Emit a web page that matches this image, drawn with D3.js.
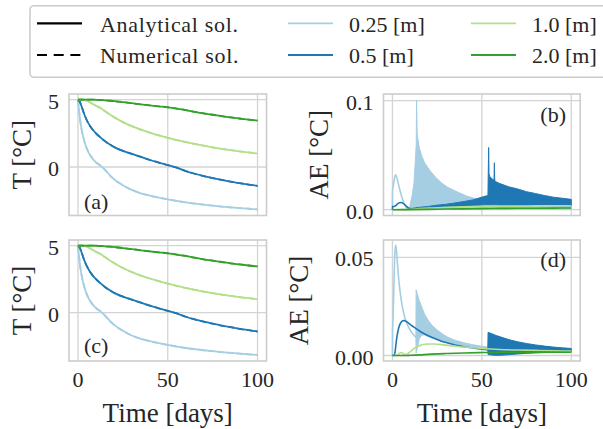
<!DOCTYPE html>
<html><head><meta charset="utf-8">
<script src="https://cdn.jsdelivr.net/npm/d3@7"></script>
<style>
body{margin:0;background:#fff}
svg{display:block}
text{font-family:"Liberation Serif","Times New Roman",serif;fill:#262626}
</style>
</head><body>
<svg id="chart" width="603" height="429"></svg>
<script>
// ---------------- data ----------------
const depthLabels = ["0.25 [m]", "0.5 [m]", "1.0 [m]", "2.0 [m]"];
const solLabels = ["Analytical sol.", "Numerical sol."];
const xTicks = [0, 50, 100];
const tTicks = [0, 5];
const aeTicksB = [0.0, 0.1];
const aeTicksD = [0.00, 0.05];
const xLabel = "Time [days]";
const yLabelT = "T [°C]";
const yLabelAE = "AE [°C]";

// temperature (panels a and c)
const timeT = [0,1,2,3,4,5,6,8,10,12.5,15,18,21,25,30,35,40,45,50,55,60,65,70,75,80,85,90,95,100];
const tempD025 = [5,3.7,2.8,2.2,1.7,1.35,1.05,0.65,0.35,0.1,-0.2,-0.65,-1.0,-1.35,-1.7,-1.95,-2.12,-2.27,-2.4,-2.52,-2.63,-2.72,-2.8,-2.87,-2.94,-3.0,-3.05,-3.1,-3.15];
const tempD05  = [5,4.85,4.5,4.1,3.75,3.45,3.2,2.8,2.5,2.2,1.92,1.65,1.42,1.2,0.97,0.75,0.52,0.33,0.14,-0.05,-0.3,-0.5,-0.67,-0.82,-0.96,-1.08,-1.2,-1.3,-1.4];
const tempD10  = [5,5,5,4.98,4.95,4.9,4.85,4.7,4.55,4.38,4.15,3.88,3.63,3.33,3.03,2.77,2.55,2.35,2.17,2.0,1.85,1.71,1.58,1.46,1.35,1.25,1.16,1.08,1.0];
const tempD20  = [5,5,5,5,5,5,5,5,4.99,4.97,4.95,4.92,4.88,4.82,4.74,4.65,4.57,4.5,4.43,4.33,4.23,4.1,3.98,3.88,3.78,3.68,3.6,3.52,3.45];

// absolute error, panel (b)
const aeB_D025_t  = [0,0.05,0.5,1,1.8,2.5,3,4,5,6,7,8,9,9.5];
const aeB_D025_v  = [0,0.017,0.022,0.028,0.032,0.029,0.026,0.019,0.013,0.008,0.004,0.0015,0.0005,0.0004];
const aeB_D025_bt = [9.5,10,11,12,12.8,13.3,13.5,13.8,14.3,15,16.3,18,21,24,27.5,31,37,42,48,52,55,60,70,80,90,100];
const aeB_D025_hi = [0.0005,0.006,0.013,0.024,0.045,0.06,0.1005,0.07,0.064,0.057,0.0495,0.043,0.0358,0.030,0.0245,0.0204,0.0158,0.0122,0.0095,0.008,0.0072,0.0065,0.0055,0.0048,0.0043,0.004];
const aeB_D025_lo = [0.0004,0.0004,0.0004,0.0004,0.0004,0.0004,0.0004,0.0004,0.0004,0.0004,0.0004,0.0004,0.0004,0.0004,0.0004,0.0004,0.0004,0.0004,0.0004,0.0004,0.0004,0.0004,0.0004,0.0004,0.0004,0.0004];
const aeB_D05_t   = [0,0.05,1,2,3,4,5,6,7,8,9,10,11];
const aeB_D05_v   = [0,0.003,0.003,0.004,0.0055,0.0063,0.0066,0.0058,0.0045,0.0028,0.0016,0.001,0.0009];
const aeB_D05_bt  = [11,15,20,25,30,35,40,45,48,51,53.4,53.6,53.8,54.0,54.5,56.0,56.8,57.0,57.2,58,60,65,70,75,80,85,90,95,100];
const aeB_D05_hi  = [0.0012,0.0022,0.003,0.0042,0.005,0.0062,0.0075,0.009,0.0105,0.012,0.013,0.035,0.057,0.033,0.03,0.028,0.027,0.043,0.027,0.0255,0.024,0.021,0.019,0.0165,0.0148,0.013,0.0115,0.0105,0.0095];
const aeB_D05_lo  = [0.0008,0.0012,0.0016,0.002,0.0025,0.003,0.0035,0.004,0.0042,0.0045,0.0046,0.0045,0.0045,0.0045,0.0045,0.0045,0.0045,0.0045,0.0045,0.0045,0.0044,0.0043,0.0042,0.0041,0.004,0.0039,0.0038,0.0037,0.0036];
const aeB_D10_t   = [0,5,8,10,15,20,30,40,50,60,70,80,90,100];
const aeB_D10_v   = [0,0,0.0001,0.0003,0.001,0.0016,0.0022,0.0026,0.0029,0.0031,0.0033,0.0035,0.0036,0.0037];
const aeB_D20_t   = [0,10,20,30,40,50,60,70,80,90,100];
const aeB_D20_v   = [0,0.0001,0.0003,0.0006,0.0008,0.001,0.0012,0.0013,0.0014,0.0015,0.0016];

// absolute error, panel (d)
const aeD_D025_t  = [0,0.05,0.3,0.8,1.3,1.8,2.2,2.8,3.5,4.5,5.5,7,9,11,12.5,13.1];
const aeD_D025_v  = [0,0.012,0.018,0.035,0.051,0.0563,0.054,0.047,0.039,0.031,0.025,0.019,0.0145,0.0115,0.0098,0.0092];
const aeD_D025_bt = [13.1,13.25,13.4,14,15,16.5,18,20,22,25,28,31,35,40,45,50,55,60,70,80,90,100];
const aeD_D025_hi = [0.0092,0.0335,0.033,0.031,0.028,0.0245,0.021,0.018,0.0155,0.013,0.011,0.0093,0.0078,0.0065,0.0055,0.0047,0.0041,0.0037,0.0032,0.0028,0.0025,0.0023];
const aeD_D025_lo = [0.0092,0.0012,0.002,0.004,0.0085,0.0105,0.0105,0.0097,0.009,0.008,0.0072,0.0065,0.0057,0.005,0.0043,0.0038,0.0034,0.003,0.0025,0.0022,0.002,0.0018];
const aeD_D05_t   = [0,1,1.5,2,2.5,3,3.5,4,5,6,7,8,9,10,12,14,16,18,20,23,26,30,35,40,45,50,53.3];
const aeD_D05_v   = [0,0.0003,0.002,0.006,0.0095,0.012,0.014,0.0155,0.0171,0.0178,0.0177,0.0172,0.0165,0.0158,0.0145,0.0132,0.012,0.011,0.0101,0.0089,0.0078,0.0066,0.0054,0.0045,0.0038,0.0032,0.0029];
const aeD_D05_bt  = [53.3,53.5,55,58,62,66,70,75,80,85,90,95,100];
const aeD_D05_hi  = [0.0029,0.0118,0.0113,0.0102,0.009,0.0079,0.007,0.0061,0.0054,0.0048,0.0043,0.0039,0.0036];
const aeD_D05_lo  = [0.0029,0.0005,0.0003,0.0001,0.0002,0.0005,0.0008,0.0011,0.0013,0.0015,0.0016,0.0018,0.0019];
const aeD_D10_t   = [0,3,4,5,6,7,8,9,10,12,14,16,18,20,23,26,30,35,40,50,60,70,80,90,100];
const aeD_D10_v   = [0,0.0001,0.0012,0.0015,0.001,0.0004,0.0006,0.0012,0.002,0.0035,0.0046,0.0053,0.0057,0.0059,0.0059,0.0057,0.0053,0.0048,0.0043,0.0036,0.0031,0.0028,0.0026,0.0024,0.0023];
const aeD_D20_t   = [0,8,10,15,20,30,40,50,60,80,100];
const aeD_D20_v   = [0,0,0.0001,0.0003,0.0006,0.001,0.0013,0.0015,0.0016,0.0017,0.0017];

// ---------------- drawing ----------------
const colors = ["#a6cee3", "#1f78b4", "#b2df8a", "#33a02c"];
const svg = d3.select("#chart");
const zip2 = (t, v) => t.map((x, i) => ({t: x, v: v[i]}));
const zip3 = (t, lo, hi) => t.map((x, i) => ({t: x, lo: lo[i], hi: hi[i]}));

let clipId = 0;
function makeAxes(box, yDomain, yTicks, yFmt, showX) {
  const x = d3.scaleLinear().domain([-5, 105]).range([box.x0, box.x1]);
  const y = d3.scaleLinear().domain(yDomain).range([box.y1, box.y0]);
  const g = svg.append("g");
  // grid
  g.selectAll(".gx").data(xTicks).enter().append("line")
    .attr("x1", d => x(d)).attr("x2", d => x(d)).attr("y1", box.y0).attr("y2", box.y1)
    .attr("stroke", "#d4d4d4").attr("stroke-width", 1.3);
  g.selectAll(".gy").data(yTicks).enter().append("line")
    .attr("y1", d => y(d)).attr("y2", d => y(d)).attr("x1", box.x0).attr("x2", box.x1)
    .attr("stroke", "#d4d4d4").attr("stroke-width", 1.3);
  // tick labels
  g.selectAll(".ty").data(yTicks).enter().append("text")
    .attr("x", box.x0 - 10).attr("y", d => y(d) + 9)
    .attr("text-anchor", "end").attr("font-size", 22).text(d => yFmt(d));
  if (showX) {
    g.selectAll(".tx").data(xTicks).enter().append("text")
      .attr("x", d => x(d)).attr("y", box.y1 + 25.7)
      .attr("text-anchor", "middle").attr("font-size", 22).text(d => d);
    g.append("text").attr("x", (box.x0 + box.x1) / 2).attr("y", 421.5)
      .attr("text-anchor", "middle").attr("font-size", 27).text(xLabel);
  }
  const id = "clip" + (clipId++);
  svg.append("clipPath").attr("id", id).append("rect")
    .attr("x", box.x0).attr("y", box.y0).attr("width", box.x1 - box.x0).attr("height", box.y1 - box.y0);
  const plot = svg.append("g").attr("clip-path", `url(#${id})`);
  return {x, y, g, plot, box};
}
function frame(ax) {
  const b = ax.box;
  svg.append("rect").attr("x", b.x0).attr("y", b.y0).attr("width", b.x1 - b.x0).attr("height", b.y1 - b.y0)
    .attr("fill", "none").attr("stroke", "#cccccc").attr("stroke-width", 1.6);
}
function yLabel(ax, text, bx) {
  const cy = (ax.box.y0 + ax.box.y1) / 2;
  svg.append("text").attr("transform", `translate(${bx},${cy}) rotate(-90)`)
    .attr("text-anchor", "middle").attr("font-size", 27).text(text);
}
function tag(ax, text, px, py, anchor) {
  svg.append("text").attr("x", px).attr("y", py).attr("text-anchor", anchor)
    .attr("font-size", 22).text(text);
}

function tempPanel(box, showX) {
  const ax = makeAxes(box, [-3.6, 5.42], tTicks, d3.format("d"), showX);
  const series = [tempD025, tempD05, tempD10, tempD20];
  const line = d3.line().x(d => ax.x(d.t)).y(d => ax.y(d.v)).curve(d3.curveMonotoneX);
  series.forEach((s, i) => {
    const data = zip2(timeT, s);
    ax.plot.append("path").attr("d", line(data)).attr("fill", "none")
      .attr("stroke", colors[i]).attr("stroke-width", 1.8);
    ax.plot.append("path").attr("d", line(data)).attr("fill", "none")
      .attr("stroke", colors[i]).attr("stroke-width", 1.8).attr("stroke-dasharray", "6,3.5");
  });
  frame(ax);
  return ax;
}

function aePanel(box, yDomain, yTicks, fmt, showX, parts) {
  const ax = makeAxes(box, yDomain, yTicks, d3.format(fmt), showX);
  const line = d3.line().x(d => ax.x(d.t)).y(d => ax.y(d.v)).curve(d3.curveMonotoneX);
  const area = d3.area().x(d => ax.x(d.t)).y0(d => ax.y(d.lo)).y1(d => ax.y(d.hi));
  parts.forEach(p => {
    if (p.band) {
      ax.plot.append("path").attr("d", area(p.band)).attr("fill", colors[p.c])
        .attr("stroke", colors[p.c]).attr("stroke-width", 1).attr("stroke-linejoin", "round");
    }
    ax.plot.append("path").attr("d", line(p.line)).attr("fill", "none")
      .attr("stroke", colors[p.c]).attr("stroke-width", 1.6);
  });
  frame(ax);
  return ax;
}

const boxA = {x0: 69, x1: 266.5, y0: 94, y1: 215.5};
const boxB = {x0: 383.5, x1: 580.2, y0: 94, y1: 215.5};
const boxC = {x0: 69, x1: 266.5, y0: 240, y1: 361};
const boxD = {x0: 383.5, x1: 580.2, y0: 240, y1: 361};

const axA = tempPanel(boxA, false);
const axC = tempPanel(boxC, true);
const axB = aePanel(boxB, [-0.0053, 0.106], aeTicksB, ".1f", false, [
  {c: 0, line: zip2(aeB_D025_t, aeB_D025_v), band: zip3(aeB_D025_bt, aeB_D025_lo, aeB_D025_hi)},
  {c: 1, line: zip2(aeB_D05_t, aeB_D05_v), band: zip3(aeB_D05_bt, aeB_D05_lo, aeB_D05_hi)},
  {c: 2, line: zip2(aeB_D10_t, aeB_D10_v)},
  {c: 3, line: zip2(aeB_D20_t, aeB_D20_v)}
]);
const axD = aePanel(boxD, [-0.0028, 0.0589], aeTicksD, ".2f", true, [
  {c: 0, line: zip2(aeD_D025_t, aeD_D025_v), band: zip3(aeD_D025_bt, aeD_D025_lo, aeD_D025_hi)},
  {c: 1, line: zip2(aeD_D05_t, aeD_D05_v), band: zip3(aeD_D05_bt, aeD_D05_lo, aeD_D05_hi)},
  {c: 2, line: zip2(aeD_D10_t, aeD_D10_v)},
  {c: 3, line: zip2(aeD_D20_t, aeD_D20_v)}
]);

yLabel(axA, yLabelT, 30.5);
yLabel(axC, yLabelT, 30.5);
yLabel(axB, yLabelAE, 328);
yLabel(axD, yLabelAE, 308);

tag(axA, "(a)", 84, 208.5, "start");
tag(axB, "(b)", 566, 122, "end");
tag(axC, "(c)", 84, 353, "start");
tag(axD, "(d)", 566, 267, "end");

// ---------------- legend ----------------
const lg = svg.append("g");
lg.append("rect").attr("x", 30).attr("y", 5.7).attr("width", 600).attr("height", 71.6)
  .attr("rx", 4).attr("fill", "#fff").attr("stroke", "#cccccc").attr("stroke-width", 1.6);
const rowY = [23.3, 55];
const entries = [
  {x: 37, tx: 100, row: 0, color: "#000", dash: null, label: solLabels[0], word: true},
  {x: 37, tx: 100, row: 1, color: "#000", dash: "10,6.7", label: solLabels[1], word: true},
  {x: 288, tx: 349, row: 0, color: colors[0], dash: null, label: depthLabels[0]},
  {x: 288, tx: 349, row: 1, color: colors[1], dash: null, label: depthLabels[1]},
  {x: 471, tx: 532, row: 0, color: colors[2], dash: null, label: depthLabels[2]},
  {x: 471, tx: 532, row: 1, color: colors[3], dash: null, label: depthLabels[3]}
];
entries.forEach(e => {
  const y = rowY[e.row];
  const l = lg.append("line").attr("x1", e.x).attr("x2", e.x + 45).attr("y1", y).attr("y2", y)
    .attr("stroke", e.color).attr("stroke-width", e.word ? 2.2 : 1.8);
  if (e.dash) l.attr("stroke-dasharray", e.dash);
  lg.append("text").attr("x", e.tx).attr("y", y + 8.2).attr("font-size", 22)
    .attr("letter-spacing", e.word ? "0.7px" : "0px").text(e.label);
});
</script>
</body></html>
